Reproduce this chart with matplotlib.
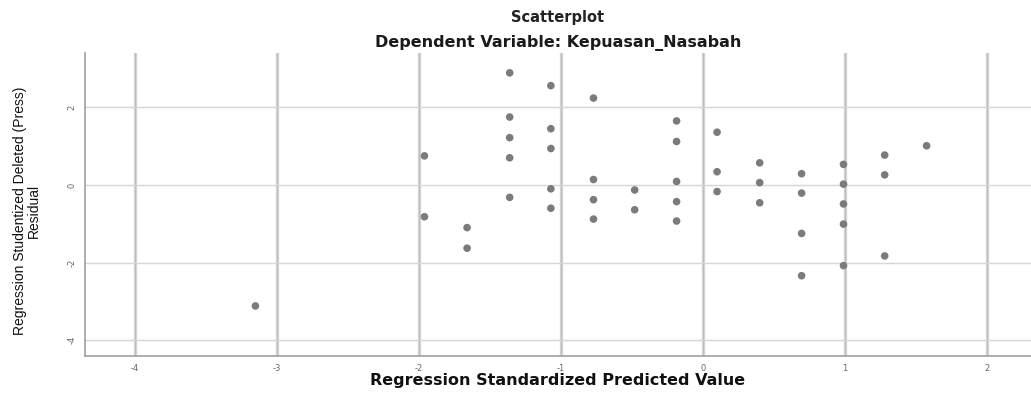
import matplotlib
matplotlib.use("Agg")
import matplotlib.pyplot as plt

# data
pred_x = [-3.15, -1.96, -1.96, -1.66, -1.66,
          -1.36, -1.36, -1.36, -1.36, -1.36,
          -1.07, -1.07, -1.07, -1.07, -1.07,
          -0.77, -0.77, -0.77, -0.77,
          -0.48, -0.48,
          -0.185, -0.185, -0.185, -0.185, -0.185,
          0.10, 0.10, 0.10,
          0.40, 0.40, 0.40,
          0.695, 0.695, 0.695, 0.695,
          0.99, 0.99, 0.99, 0.99, 0.99,
          1.28, 1.28, 1.28,
          1.575]
resid_y = [-3.12, 0.75, -0.82, -1.10, -1.63,
           2.89, 1.75, 1.22, 0.70, -0.32,
           2.56, 1.45, 0.94, -0.10, -0.60,
           2.24, 0.14, -0.38, -0.88,
           -0.13, -0.64,
           1.65, 1.12, 0.09, -0.43, -0.93,
           1.36, 0.34, -0.17,
           0.57, 0.06, -0.46,
           0.29, -0.21, -1.25, -2.34,
           0.53, 0.02, -0.49, -1.01, -2.08,
           0.77, 0.26, -1.83,
           1.01]
x_ticks = [-4, -3, -2, -1, 0, 1, 2]
y_ticks = [-4, -2, 0, 2]

fig = plt.figure(figsize=(10.31, 3.96), dpi=100)
ax = fig.add_axes([0.0824, 0.101, 0.9176, 0.765])

ax.set_xlim(-4.35, 2.31)
ax.set_ylim(-4.41, 3.40)

# garis grid
for xv in x_ticks:
    ax.axvline(xv, color="#d6d6d6", lw=2.4, zorder=1)
    ax.axvline(xv, color="#bdbdbd", lw=0.8, zorder=1)
for yv in y_ticks:
    ax.axhline(yv, color="#d6d6d6", lw=1.0, zorder=1)

ax.scatter(pred_x, resid_y, s=30, color="#7b7b7b", edgecolors="none", zorder=3)

ax.set_xticks(x_ticks)
ax.set_yticks(y_ticks)
ax.set_xticklabels([str(v) for v in x_ticks], fontsize=6, color="#666666")
ax.set_yticklabels([str(v) for v in y_ticks], fontsize=6, color="#666666", rotation=90, va="center")
ax.tick_params(length=0, pad=6)

for s in ["top", "right"]:
    ax.spines[s].set_visible(False)
for s in ["left", "bottom"]:
    ax.spines[s].set_color("#a0a0a0")
    ax.spines[s].set_linewidth(1.2)

fig.text(0.541, 0.955, "Scatterplot", ha="center", va="center",
         fontsize=10.5, fontweight="bold", family="DejaVu Sans", color="#222222")
fig.text(0.541, 0.891, "Dependent Variable: Kepuasan_Nasabah", ha="center", va="center",
         fontsize=11.5, fontweight="bold", family="DejaVu Sans", color="#1a1a1a")
fig.text(0.541, 0.04, "Regression Standardized Predicted Value", ha="center", va="center",
         fontsize=11.5, fontweight="bold", family="DejaVu Sans", color="#111111")
fig.text(0.026, 0.467, "Regression Studentized Deleted (Press)\nResidual", ha="center", va="center",
         rotation=90, fontsize=10, family=["Liberation Sans Narrow", "Liberation Sans", "DejaVu Sans"],
         color="#111111", linespacing=1.0)

fig.savefig("out.png", dpi=100)
